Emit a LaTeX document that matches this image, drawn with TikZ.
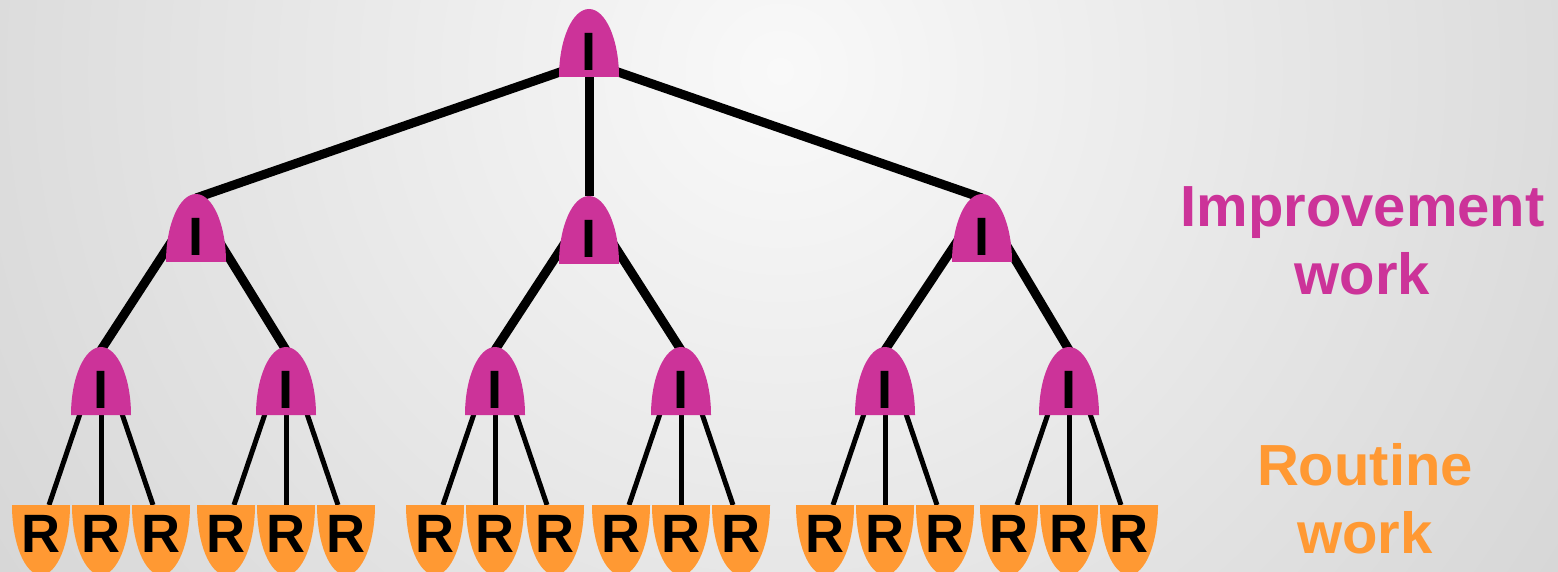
\documentclass[tikz,border=0pt]{standalone}
\usepackage{fontspec}
\setmainfont{Liberation Sans}
\usetikzlibrary{calc}
\pgfdeclarelayer{back}
\pgfdeclarelayer{edges}
\pgfsetlayers{back,edges,main}

\definecolor{imag}{HTML}{CC3399}
\definecolor{rorange}{HTML}{FF9933}
\definecolor{bginner}{HTML}{F9F9F9}
\definecolor{bgouter}{HTML}{D6D6D6}

\tikzset{
  ibox/.style={rectangle, draw=none, inner sep=0pt, outer sep=0pt,
    minimum width=60pt, minimum height=68pt, anchor=south},
  rbox/.style={rectangle, draw=none, inner sep=0pt, outer sep=0pt,
    minimum width=58pt, minimum height=70pt, anchor=north},
  letter/.style={inner sep=0pt, outer sep=0pt, text=black,
    font=\fontsize{54}{54}\selectfont\bfseries},
  caption/.style={inner sep=0pt, anchor=base,
    font=\fontsize{58}{58}\selectfont\bfseries},
  thickedge/.style={line width=9pt, black},
  thinedge/.style={line width=5pt, black},
}

% an improvement node: dome with flat base, letter I
\newcommand\inode[3]{%
  \node[ibox] (#1) at (#2,#3) {};
  \fill[imag] (#1.south west) arc[start angle=180, end angle=0,
    x radius=30pt, y radius=68pt] -- cycle;
  \node[letter] (#1-t) at ([yshift=25.5pt]#1.south) {I};
}
% a routine node: flat top, rounded bottom, letter R
\newcommand\rnode[2]{%
  \node[rbox] (#1) at (#2,66) {};
  \fill[rorange] (#1.north west) arc[start angle=180, end angle=360,
    x radius=29pt, y radius=70pt] -- cycle;
  \node[letter] (#1-t) at ([yshift=-28.5pt]#1.north) {R};
}

\begin{document}
\begin{tikzpicture}[x=1pt, y=1pt]
\useasboundingbox (0,0) rectangle (1558,571);
\clip (0,0) rectangle (1558,571);

\begin{pgfonlayer}{back}
  \shade[inner color=bginner, outer color=bgouter]
    (780,500) circle[radius=950pt];
\end{pgfonlayer}

% top level
\inode{top}{589}{494}
% second level
\inode{a}{196}{309}
\inode{b}{589}{307}
\inode{c}{982}{309}
% third level
\inode{a1}{101}{156}
\inode{a2}{286}{156}
\inode{b1}{495}{156}
\inode{b2}{681}{156}
\inode{c1}{885}{156}
\inode{c2}{1069}{156}

% routine leaves
\foreach \p/\x in {a1/101, a2/286, b1/495, b2/681, c1/885, c2/1069}{
  \rnode{\p-l}{\x-60}
  \rnode{\p-m}{\x}
  \rnode{\p-r}{\x+60}
}

% labels
\node[caption, text=imag] (imp1) at (1362.5,344) {Improvement};
\node[caption, text=imag] (imp2) at (1362.5,276) {work};
\node[caption, text=rorange] (rou1) at (1365,86) {Routine};
\node[caption, text=rorange] (rou2) at (1365,18) {work};

\begin{pgfonlayer}{edges}
  \draw[thickedge] ([yshift=15pt]top.south) -- ([yshift=-4pt]a.north);
  \draw[thickedge] (top.south) -- (b.north);
  \draw[thickedge] ([yshift=15pt]top.south) -- ([yshift=-4pt]c.north);
  \foreach \p/\q in {a/a1, a/a2, b/b1, b/b2, c/c1, c/c2}{
    \draw[thickedge] ([yshift=-10pt]\p.north) -- ([yshift=-3pt]\q.north);
  }
  \foreach \q in {a1, a2, b1, b2, c1, c2}{
    \draw[thinedge] ([yshift=-5pt]\q.north) -- ([xshift=8pt]\q-l.north);
    \draw[thinedge] (\q.south) -- (\q-m.north);
    \draw[thinedge] ([yshift=-5pt]\q.north) -- ([xshift=-8pt]\q-r.north);
  }
\end{pgfonlayer}
\end{tikzpicture}
\end{document}
